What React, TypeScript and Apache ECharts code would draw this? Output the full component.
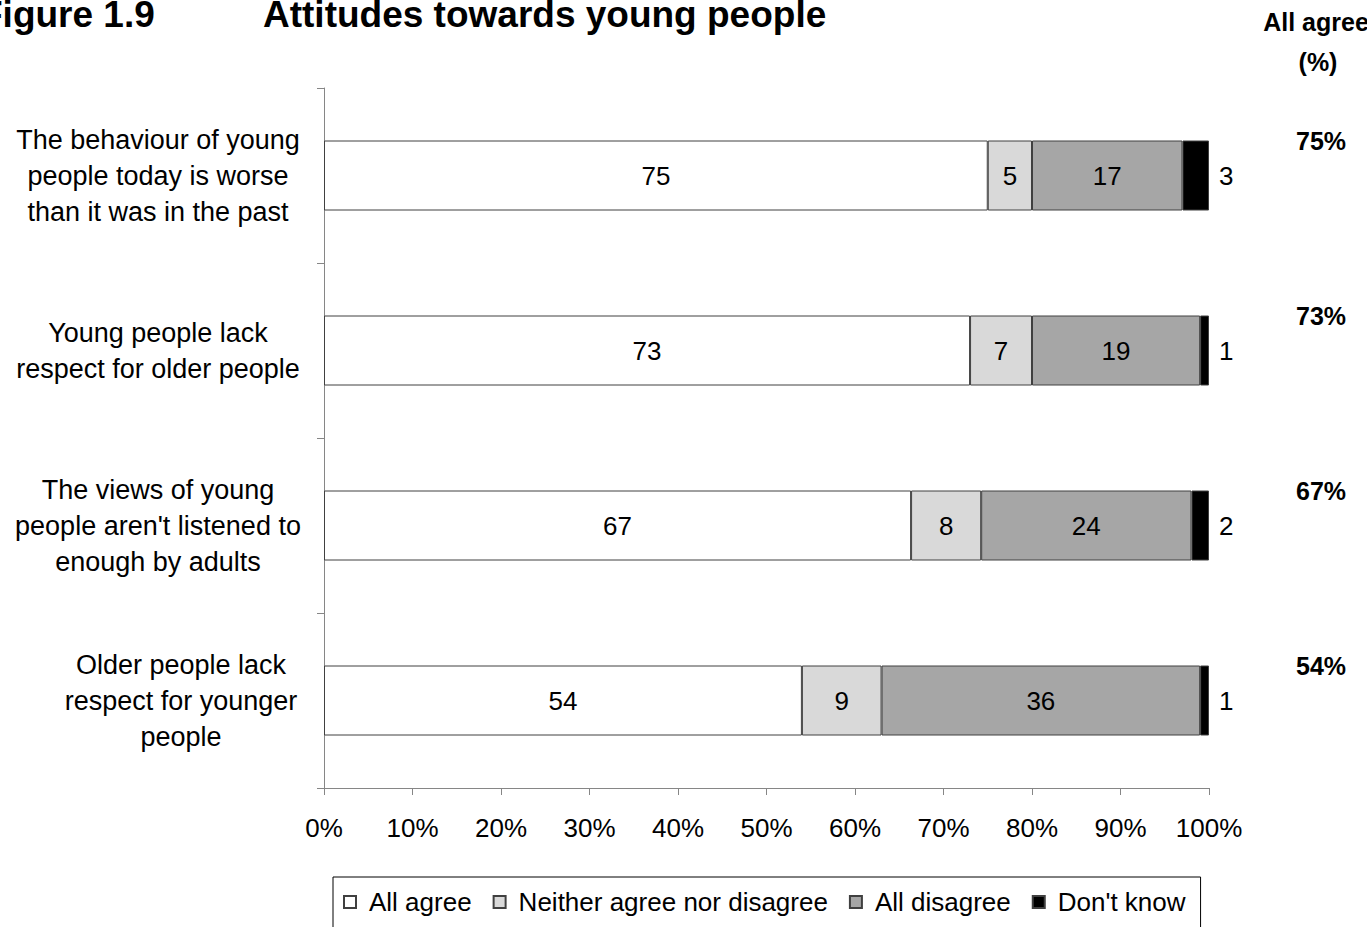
import React, { useEffect, useRef } from "react";
import * as echarts from "echarts";

const categories = [
  "The behaviour of young\npeople today is worse\nthan it was in the past",
  "Young people lack\nrespect for older people",
  "The views of young\npeople aren't listened to\nenough by adults",
  "Older people lack\nrespect for younger\npeople",
];
const seriesNames = ["All agree", "Neither agree nor disagree", "All disagree", "Don't know"];
const allAgree = [75, 73, 67, 54];
const neither = [5, 7, 8, 9];
const allDisagree = [17, 19, 24, 36];
const dontKnow = [3, 1, 2, 1];
const xTicks = [0, 10, 20, 30, 40, 50, 60, 70, 80, 90, 100];

const FONT = 'Arial, "Liberation Sans", sans-serif';
const colors = ["#ffffff", "#d9d9d9", "#a6a6a6", "#000000"];

export default function App() {
  const ref = useRef<HTMLDivElement>(null);
  useEffect(() => {
    if (!ref.current) return;
    const chart = echarts.init(ref.current, null, { renderer: "svg" });
    const raw = [allAgree, neither, allDisagree, dontKnow];
    const totals = categories.map((_, i) => raw.reduce((s, arr) => s + arr[i], 0));
    const series = raw.map((arr, si) => ({
      name: seriesNames[si],
      type: "bar",
      stack: "total",
      barWidth: "40%",
      itemStyle: { color: colors[si], borderColor: "#404040", borderWidth: 1 },
      label: {
        show: true,
        position: si === 3 ? "right" : "inside",
        distance: 10,
        color: "#000",
        fontSize: 26,
        fontFamily: FONT,
        formatter: (p: any) => String(arr[p.dataIndex]),
      },
      data: arr.map((v, i) => (v / totals[i]) * 100),
    }));
    chart.setOption({
      animation: false,
      backgroundColor: "#ffffff",
      textStyle: { fontFamily: FONT },
      grid: { left: 324, right: 158, top: 88, bottom: 139, containLabel: false },
      legend: {
        data: seriesNames,
        left: 333,
        top: 877,
        icon: "rect",
        itemWidth: 12,
        itemHeight: 12,
        itemGap: 21,
        padding: [12, 15, 30, 10],
        borderColor: "#000",
        borderWidth: 1,
        textStyle: { fontSize: 26, color: "#000", fontFamily: FONT, padding: [0, 0, 0, 8] },
      },
      xAxis: {
        type: "value",
        min: xTicks[0],
        max: xTicks[xTicks.length - 1],
        interval: xTicks[1] - xTicks[0],
        axisLine: { show: true, lineStyle: { color: "#868686", width: 1 } },
        axisTick: { show: true, length: 7, lineStyle: { color: "#868686" } },
        splitLine: { show: false },
        axisLabel: { formatter: "{value}%", fontSize: 26, color: "#000", margin: 27, fontFamily: FONT },
      },
      yAxis: [
        {
          type: "category",
          data: categories,
          inverse: true,
          axisLine: { show: true, lineStyle: { color: "#868686", width: 1 } },
          axisTick: { show: true, length: 7, lineStyle: { color: "#868686" } },
          axisLabel: {
            fontSize: 27,
            lineHeight: 36,
            color: "#000",
            align: "center",
            margin: 166,
            fontFamily: FONT,
            formatter: (v: string, i: number) =>
              i === 3 ? v.split("\n").map((l) => `{s|${l}}`).join("\n") : v,
            rich: {
              s: { fontSize: 27, lineHeight: 36, color: "#000", fontFamily: FONT, padding: [0, 0, 0, 46] },
            },
          },
        },
        {
          type: "category",
          data: categories,
          inverse: true,
          position: "right",
          axisLine: { show: false },
          axisTick: { show: false },
          axisLabel: {
            fontSize: 25,
            fontWeight: "bold",
            lineHeight: 69,
            color: "#000",
            align: "center",
            verticalAlign: "middle",
            margin: 112,
            fontFamily: FONT,
            formatter: (_v: string, i: number) => `${allAgree[i]}%\n\u00a0`,
          },
        },
      ],
      graphic: [
        {
          type: "text",
          x: -20,
          y: 14,
          style: { text: "Figure 1.9", font: `bold 37px ${FONT}`, fill: "#000", verticalAlign: "middle" },
        },
        {
          type: "text",
          x: 263,
          y: 14,
          style: { text: "Attitudes towards young people", font: `bold 37px ${FONT}`, fill: "#000", verticalAlign: "middle" },
        },
        {
          type: "text",
          x: 1316,
          y: 22,
          style: { text: "All agree", font: `bold 25px ${FONT}`, fill: "#000", align: "center", verticalAlign: "middle" },
        },
        {
          type: "text",
          x: 1318,
          y: 62,
          style: { text: "(%)", font: `bold 25px ${FONT}`, fill: "#000", align: "center", verticalAlign: "middle" },
        },
      ],
      series,
    });
    return () => chart.dispose();
  }, []);
  return (
    <div
      ref={ref}
      style={{ position: "fixed", left: 0, top: 0, width: 1367, height: 927, background: "#fff" }}
    />
  );
}
